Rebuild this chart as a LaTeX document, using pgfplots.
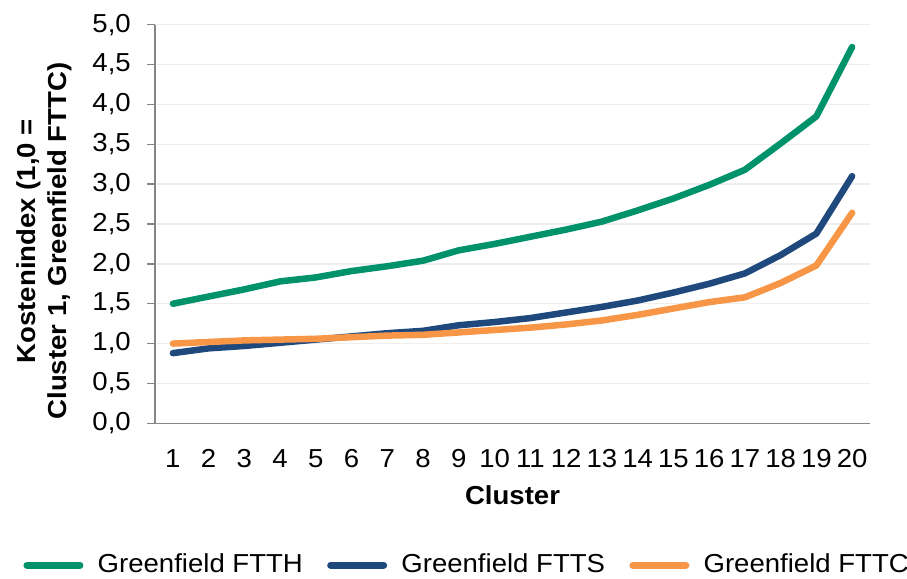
\documentclass[border=0pt]{standalone}
\usepackage{fontspec}
\setmainfont[FakeStretch=1.06]{Liberation Sans}
\usepackage{pgfplots}
\pgfplotsset{compat=1.18}
\definecolor{cgreen}{RGB}{0,146,106}
\definecolor{cblue}{RGB}{31,73,125}
\definecolor{corange}{RGB}{247,150,70}
\definecolor{caxis}{RGB}{134,134,134}
\definecolor{cgrid}{RGB}{238,238,238}
\pgfplotstableread{
x ftth ftts fttc
1 1.50 0.88 1.00
2 1.59 0.94 1.02
3 1.68 0.97 1.04
4 1.78 1.01 1.05
5 1.83 1.05 1.06
6 1.91 1.09 1.08
7 1.97 1.13 1.10
8 2.04 1.16 1.11
9 2.17 1.23 1.14
10 2.25 1.27 1.17
11 2.34 1.32 1.20
12 2.43 1.39 1.24
13 2.53 1.46 1.29
14 2.67 1.54 1.36
15 2.82 1.64 1.44
16 2.99 1.75 1.52
17 3.18 1.88 1.58
18 3.51 2.11 1.76
19 3.85 2.38 1.98
20 4.72 3.10 2.64
}\datatable
\begin{document}
\fontsize{26pt}{31pt}\selectfont
\begin{tikzpicture}
\path[use as bounding box] (0,0) rectangle (907pt,578pt);
\begin{axis}[
  at={(155pt,154.7pt)}, anchor=south west,
  scale only axis, width=715pt, height=398.6pt,
  xmin=0.5, xmax=20.5, ymin=0, ymax=5,
  axis lines=left, axis line style={-, caxis, line width=1.3pt},
  clip=false,
  xtick={1,...,20},
  minor xtick={0.5,1.5,...,20.5},
  ytick={0,0.5,...,5},
  tick align=outside,
  major tick length=8pt, minor tick length=8pt,
  xtick style={draw=none},
  minor x tick style={caxis, line width=1.3pt},
  ytick style={caxis, line width=1.3pt},
  ymajorgrids, grid style={cgrid, line width=1.5pt},
  /pgf/number format/assume math mode=true,
  y tick label style={/pgf/number format/fixed, /pgf/number format/fixed zerofill, /pgf/number format/precision=1, /pgf/number format/use comma},
  yticklabel style={font=\fontsize{26pt}{31pt}\selectfont, inner sep=0pt, anchor=east, xshift=-16pt},
  xticklabel style={font=\fontsize{26pt}{31pt}\selectfont, inner sep=0pt, anchor=north, yshift=-18pt},
  xlabel={\bfseries Cluster},
  every axis x label/.style={at={(axis description cs:0.5,-0.180)}, anchor=center, font=\fontsize{26pt}{31pt}\selectfont},
  ylabel={Kostenindex (1,0 =\\Cluster 1, Greenfield FTTC)},
  every axis y label/.style={at={(axis description cs:-0.155,0.457)}, anchor=center, rotate=90, align=center, font=\fontsize{26pt}{31.5pt}\selectfont\bfseries},
  legend columns=3,
  legend style={draw=none, fill=none, inner sep=0pt, at={(0.4182,-0.356)}, anchor=center,
    nodes={inner sep=0pt, font=\fontsize{26pt}{31pt}\selectfont}},
  legend image code/.code={\path (-21pt,0pt); \draw[line width=7pt, line cap=round] (3.5pt,0pt) -- (56.5pt,0pt); \path (71pt,0pt);},
  every axis plot/.append style={line width=6.5pt, line join=round, line cap=round, mark=none},
]
\addplot[cgreen] table[x=x, y=ftth] {\datatable};
\addlegendentry{Greenfield FTTH}
\addplot[cblue] table[x=x, y=ftts] {\datatable};
\addlegendentry{Greenfield FTTS}
\addplot[corange] table[x=x, y=fttc] {\datatable};
\addlegendentry{Greenfield FTTC}
\end{axis}
\end{tikzpicture}
\end{document}
